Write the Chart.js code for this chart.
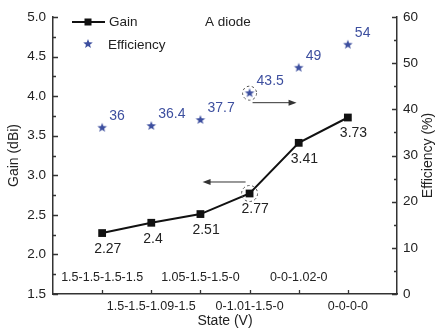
<!DOCTYPE html>
<html>
<head>
<meta charset="utf-8">
<script src="https://cdn.jsdelivr.net/npm/chart.js@4"></script>
<style>
  body { margin: 0; background: #fff; }
  canvas { display: block; }
</style>
</head>
<body>
<canvas id="gainChart" width="436" height="332"></canvas>
<script>
const states = ['1.5-1.5-1.5-1.5', '1.5-1.5-1.09-1.5', '1.05-1.5-1.5-0', '0-1.01-1.5-0', '0-0-1.02-0', '0-0-0-0'];
const gain = [2.27, 2.4, 2.51, 2.77, 3.41, 3.73];
const efficiency = [36, 36.4, 37.7, 43.5, 49, 54];
const gainLabels = ['2.27', '2.4', '2.51', '2.77', '3.41', '3.73'];
const effLabels = ['36', '36.4', '37.7', '43.5', '49', '54'];

const FONT = '"Liberation Sans", Arial, sans-serif';
const INK = '#222';
const BLUE = '#3d4f9f';

// filled five-point star used as point marker
function makeStar(r, color) {
  const c = document.createElement('canvas');
  const s = Math.ceil(r * 2 + 2);
  c.width = s; c.height = s;
  const g = c.getContext('2d');
  g.fillStyle = color;
  g.beginPath();
  for (let i = 0; i < 10; i++) {
    const rad = i % 2 === 0 ? r : r * 0.42;
    const a = -Math.PI / 2 + i * Math.PI / 5;
    g.lineTo(s / 2 + rad * Math.cos(a), s / 2 + rad * Math.sin(a));
  }
  g.closePath();
  g.fill();
  return c;
}
const star = makeStar(5, BLUE);

const extras = {
  id: 'extras',
  afterDatasetsDraw(chart) {
    const ctx = chart.ctx;
    const x = chart.scales.x, y = chart.scales.y, y1 = chart.scales.y1;
    const area = chart.chartArea;
    ctx.save();

    // inward ticks
    ctx.strokeStyle = '#333';
    ctx.lineWidth = 1.3;
    ctx.beginPath();
    for (let v = 1.5; v <= 5.001; v += 0.25) {
      const py = Math.round(y.getPixelForValue(v)) + 0.5;
      const len = Math.abs(v * 2 - Math.round(v * 2)) < 1e-6 ? 5 : 3;
      ctx.moveTo(area.left, py); ctx.lineTo(area.left + len, py);
    }
    for (let v = 0; v <= 60; v += 5) {
      const py = Math.round(y1.getPixelForValue(v)) + 0.5;
      const len = v % 10 === 0 ? 5 : 3;
      ctx.moveTo(area.right, py); ctx.lineTo(area.right - len, py);
    }
    states.forEach((s, i) => {
      const px = Math.round(x.getPixelForValue(i + 1)) + 0.5;
      ctx.moveTo(px, area.bottom); ctx.lineTo(px, area.bottom - 4);
    });
    ctx.stroke();

    // category labels, alternating inside / below the axis
    ctx.fillStyle = INK;
    ctx.font = '12.5px ' + FONT;
    ctx.textAlign = 'center';
    ctx.textBaseline = 'middle';
    states.forEach((s, i) => {
      const px = x.getPixelForValue(i + 1);
      ctx.fillText(s, px, i % 2 === 0 ? area.bottom - 16 : area.bottom + 13);
    });

    // value labels
    ctx.font = '14px ' + FONT;
    ctx.textAlign = 'left';
    gain.forEach((g, i) => {
      ctx.fillStyle = INK;
      ctx.fillText(gainLabels[i], x.getPixelForValue(i + 1) - 8, y.getPixelForValue(g) + 16);
    });
    efficiency.forEach((e, i) => {
      ctx.fillStyle = BLUE;
      ctx.fillText(effLabels[i], x.getPixelForValue(i + 1) + 7, y1.getPixelForValue(e) - 12);
    });

    // dashed circles and arrows
    const cx = x.getPixelForValue(4);
    const ey = y1.getPixelForValue(efficiency[3]);
    const gy = y.getPixelForValue(gain[3]);
    ctx.strokeStyle = '#555';
    ctx.lineWidth = 1;
    ctx.setLineDash([2.5, 2.5]);
    ctx.beginPath(); ctx.arc(cx, ey, 7, 0, Math.PI * 2); ctx.stroke();
    ctx.beginPath(); ctx.arc(cx, gy, 8, 0, Math.PI * 2); ctx.stroke();
    ctx.setLineDash([]);
    ctx.strokeStyle = '#333';
    ctx.fillStyle = '#333';
    ctx.beginPath(); ctx.moveTo(cx + 3, ey + 9.5); ctx.lineTo(cx + 44, ey + 9.5); ctx.stroke();
    ctx.beginPath(); ctx.moveTo(cx + 47, ey + 9.5); ctx.lineTo(cx + 39, ey + 6.5); ctx.lineTo(cx + 39, ey + 12.5); ctx.fill();
    ctx.beginPath(); ctx.moveTo(cx - 4, gy - 11.5); ctx.lineTo(cx - 44, gy - 11.5); ctx.stroke();
    ctx.beginPath(); ctx.moveTo(cx - 47, gy - 11.5); ctx.lineTo(cx - 39, gy - 14.5); ctx.lineTo(cx - 39, gy - 8.5); ctx.fill();

    // legend
    ctx.strokeStyle = '#111';
    ctx.lineWidth = 2;
    ctx.beginPath(); ctx.moveTo(72, 22); ctx.lineTo(105, 22); ctx.stroke();
    ctx.fillStyle = '#111';
    ctx.fillRect(84.5, 18.5, 7, 7);
    ctx.drawImage(star, 88 - star.width / 2, 44 - star.height / 2);
    ctx.fillStyle = INK;
    ctx.font = '13.5px ' + FONT;
    ctx.fillText('Gain', 109, 22);
    ctx.fillText('Efficiency', 108, 45);
    ctx.fillText('A diode', 205, 22);

    // right axis title, reading bottom to top
    ctx.translate(428, (area.top + area.bottom) / 2);
    ctx.rotate(-Math.PI / 2);
    ctx.textAlign = 'center';
    ctx.font = '14px ' + FONT;
    ctx.fillText('Efficiency (%)', 0, 0);
    ctx.restore();
  }
};

new Chart(document.getElementById('gainChart'), {
  type: 'line',
  data: {
    datasets: [
      {
        label: 'Gain',
        data: gain.map((g, i) => ({ x: i + 1, y: g })),
        yAxisID: 'y',
        borderColor: '#111',
        backgroundColor: '#111',
        borderWidth: 2,
        pointStyle: 'rect',
        pointRadius: 5.5,
        pointBorderWidth: 0
      },
      {
        label: 'Efficiency',
        data: efficiency.map((e, i) => ({ x: i + 1, y: e })),
        yAxisID: 'y1',
        showLine: false,
        pointStyle: star,
        pointRadius: 6
      }
    ]
  },
  options: {
    responsive: false,
    animation: false,
    layout: { padding: { top: 17, left: 0, right: 0, bottom: 0 } },
    plugins: { legend: { display: false }, tooltip: { enabled: false } },
    scales: {
      x: {
        type: 'linear',
        min: 0,
        max: 7,
        grid: { display: false, drawTicks: false },
        border: { display: true, color: '#333', width: 1.5 },
        ticks: { display: false },
        title: { display: true, text: 'State (V)', color: INK, font: { family: FONT, size: 14 }, padding: { bottom: 2 } },
        afterFit(s) { s.height = 38; }
      },
      y: {
        position: 'left',
        min: 1.5,
        max: 5,
        grid: { display: false, drawTicks: false },
        border: { display: true, color: '#333', width: 1.5 },
        ticks: { stepSize: 0.5, padding: 7, color: INK, font: { family: FONT, size: 13.5 }, callback: v => v.toFixed(1) },
        title: { display: true, text: 'Gain (dBi)', color: INK, font: { family: FONT, size: 14 }, padding: { top: 6 } },
        afterFit(s) { s.width = 53; }
      },
      y1: {
        position: 'right',
        min: 0,
        max: 60,
        grid: { display: false, drawTicks: false },
        border: { display: true, color: '#333', width: 1.5 },
        ticks: { stepSize: 10, padding: 6, color: INK, font: { family: FONT, size: 13.5 } },
        afterFit(s) { s.width = 39; }
      }
    }
  },
  plugins: [extras]
});
</script>
</body>
</html>
